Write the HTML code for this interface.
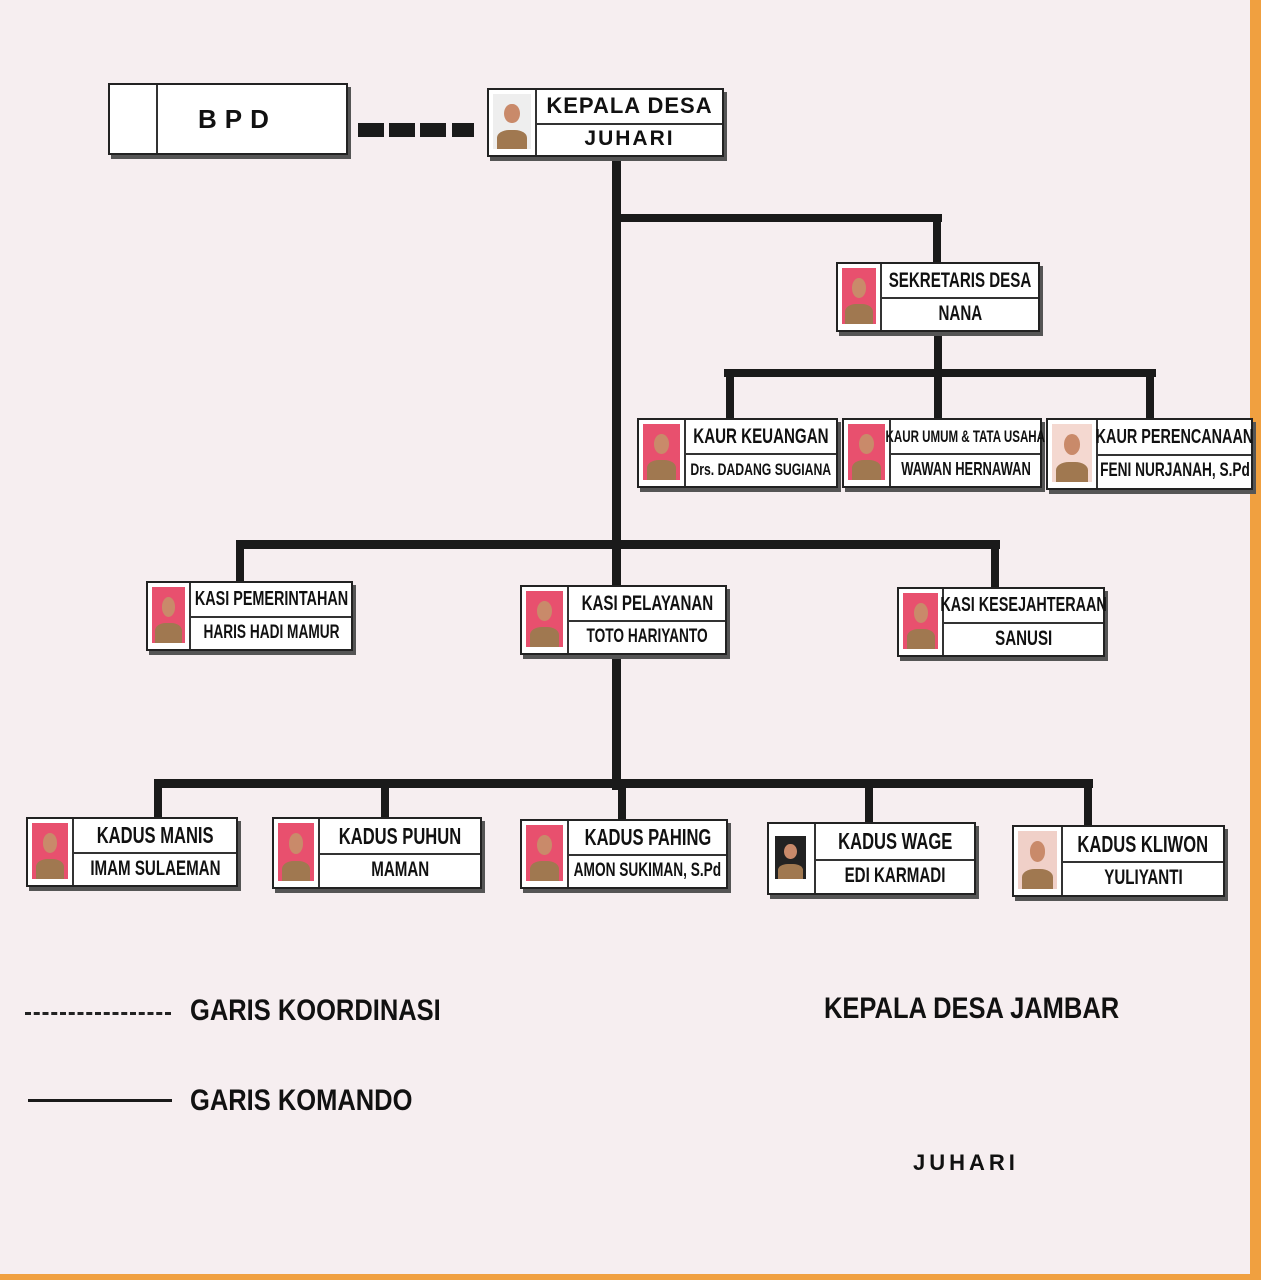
<!DOCTYPE html>
<html><head><meta charset="utf-8"><style>
html,body{margin:0;padding:0}
body{width:1261px;height:1280px;position:relative;overflow:hidden;background:#f6eef0;font-family:"Liberation Sans",sans-serif;}
.edge-r{position:absolute;left:1250px;top:0;width:11px;height:1280px;background:#f0a040}
.edge-b{position:absolute;left:0;top:1274px;width:1261px;height:6px;background:#f0a040}
.l{position:absolute;background:#1a1a1a}
.box{position:absolute;background:#fff;border:2px solid #222;box-shadow:3px 4px 0 #555;box-sizing:border-box}
.ph{position:absolute;left:0;top:0;bottom:0;border-right:2px solid #333;background:#fff;overflow:hidden}
.ph i{position:absolute;left:4px;right:4px;top:4px;bottom:6px;background:#e8506e}
.ph i:after{content:"";position:absolute;left:30%;top:18%;width:40%;height:35%;border-radius:50%;background:#c98a6a}
.ph i:before{content:"";position:absolute;left:10%;right:10%;bottom:0;height:35%;background:#a07850;border-radius:40% 40% 0 0}
.r{position:absolute;right:0;height:50%;display:flex;align-items:center;justify-content:center;font-weight:bold;color:#111;white-space:nowrap}
.r span{display:inline-block;transform:scaleX(0.72)}
.r1{top:0;border-bottom:2px solid #333}
.r2{bottom:0}
.lg{position:absolute;font-weight:bold;color:#111;font-size:30px;white-space:nowrap;transform:scaleX(0.85);transform-origin:left center}
</style></head><body>
<div class="edge-r"></div><div class="edge-b"></div>

<div class="l" style="left:612px;top:155px;width:9px;height:635px"></div>
<div class="l" style="left:612px;top:214px;width:330px;height:8px"></div>
<div class="l" style="left:933px;top:214px;width:8px;height:50px"></div>
<div class="l" style="left:934px;top:330px;width:8px;height:45px"></div>
<div class="l" style="left:724px;top:369px;width:432px;height:8px"></div>
<div class="l" style="left:726px;top:369px;width:8px;height:50px"></div>
<div class="l" style="left:934px;top:369px;width:8px;height:50px"></div>
<div class="l" style="left:1146px;top:369px;width:8px;height:50px"></div>
<div class="l" style="left:236px;top:540px;width:764px;height:9px"></div>
<div class="l" style="left:236px;top:540px;width:8px;height:44px"></div>
<div class="l" style="left:991px;top:545px;width:8px;height:44px"></div>
<div class="l" style="left:154px;top:779px;width:939px;height:9px"></div>
<div class="l" style="left:154px;top:779px;width:8px;height:40px"></div>
<div class="l" style="left:381px;top:781px;width:8px;height:38px"></div>
<div class="l" style="left:618px;top:781px;width:8px;height:40px"></div>
<div class="l" style="left:865px;top:783px;width:8px;height:42px"></div>
<div class="l" style="left:1084px;top:785px;width:8px;height:42px"></div>
<div class="l" style="left:358px;top:123px;width:26px;height:14px"></div>
<div class="l" style="left:389px;top:123px;width:26px;height:14px"></div>
<div class="l" style="left:420px;top:123px;width:26px;height:14px"></div>
<div class="l" style="left:452px;top:123px;width:22px;height:14px"></div>

<div class="box" style="left:108px;top:83px;width:240px;height:72px">
<div class="ph" style="width:46px"></div>
<div class="r" style="left:48px;height:100%;font-size:26px;letter-spacing:8px;justify-content:flex-start;padding-left:40px">BPD</div></div>

<div class="box" style="left:487px;top:88px;width:237px;height:69px"><div class="ph" style="width:46px"><i style="background:#eee"></i></div>
<div class="r r1" style="left:48px;font-size:22px;letter-spacing:1px">KEPALA DESA</div><div class="r r2" style="left:48px;font-size:21px;letter-spacing:2px">JUHARI</div></div>

<div class="box" style="left:836px;top:262px;width:204px;height:70px"><div class="ph" style="width:42px"><i></i></div>
<div class="r r1" style="left:44px;font-size:21px"><span>SEKRETARIS DESA</span></div><div class="r r2" style="left:44px;font-size:21px"><span>NANA</span></div></div>

<div class="box" style="left:637px;top:418px;width:201px;height:70px"><div class="ph" style="width:45px"><i></i></div>
<div class="r r1" style="left:47px;font-size:21px"><span>KAUR KEUANGAN</span></div><div class="r r2" style="left:47px;font-size:17px"><span>Drs. DADANG SUGIANA</span></div></div>
<div class="box" style="left:842px;top:418px;width:200px;height:70px"><div class="ph" style="width:45px"><i></i></div>
<div class="r r1" style="left:47px;font-size:17px"><span style="transform:scaleX(0.68)">KAUR UMUM &amp; TATA USAHA</span></div><div class="r r2" style="left:47px;font-size:18px"><span>WAWAN HERNAWAN</span></div></div>
<div class="box" style="left:1046px;top:418px;width:207px;height:72px"><div class="ph" style="width:48px"><i style="background:#f4d8d0"></i></div>
<div class="r r1" style="left:50px;font-size:20px"><span>KAUR PERENCANAAN</span></div><div class="r r2" style="left:50px;font-size:19px"><span>FENI NURJANAH, S.Pd</span></div></div>

<div class="box" style="left:146px;top:581px;width:207px;height:70px"><div class="ph" style="width:41px"><i></i></div>
<div class="r r1" style="left:43px;font-size:20px"><span>KASI PEMERINTAHAN</span></div><div class="r r2" style="left:43px;font-size:19px"><span>HARIS HADI MAMUR</span></div></div>
<div class="box" style="left:520px;top:585px;width:207px;height:70px"><div class="ph" style="width:45px"><i></i></div>
<div class="r r1" style="left:47px;font-size:21px"><span>KASI PELAYANAN</span></div><div class="r r2" style="left:47px;font-size:19px"><span>TOTO HARIYANTO</span></div></div>
<div class="box" style="left:897px;top:587px;width:208px;height:70px"><div class="ph" style="width:43px"><i></i></div>
<div class="r r1" style="left:45px;font-size:20px"><span>KASI KESEJAHTERAAN</span></div><div class="r r2" style="left:45px;font-size:21px"><span>SANUSI</span></div></div>

<div class="box" style="left:26px;top:817px;width:212px;height:70px"><div class="ph" style="width:44px"><i></i></div>
<div class="r r1" style="left:46px;font-size:23px"><span>KADUS MANIS</span></div><div class="r r2" style="left:46px;font-size:21px"><span>IMAM SULAEMAN</span></div></div>
<div class="box" style="left:272px;top:817px;width:210px;height:72px"><div class="ph" style="width:44px"><i></i></div>
<div class="r r1" style="left:46px;font-size:23px"><span>KADUS PUHUN</span></div><div class="r r2" style="left:46px;font-size:21px"><span>MAMAN</span></div></div>
<div class="box" style="left:520px;top:819px;width:208px;height:70px"><div class="ph" style="width:45px"><i></i></div>
<div class="r r1" style="left:47px;font-size:23px"><span>KADUS PAHING</span></div><div class="r r2" style="left:47px;font-size:19px"><span>AMON SUKIMAN, S.Pd</span></div></div>
<div class="box" style="left:767px;top:822px;width:209px;height:73px"><div class="ph" style="width:45px"><i style="background:#222;left:6px;right:8px;top:12px;bottom:14px"></i></div>
<div class="r r1" style="left:47px;font-size:23px"><span>KADUS WAGE</span></div><div class="r r2" style="left:47px;font-size:21px"><span>EDI KARMADI</span></div></div>
<div class="box" style="left:1012px;top:825px;width:213px;height:72px"><div class="ph" style="width:47px"><i style="background:#f0d0c8"></i></div>
<div class="r r1" style="left:49px;font-size:23px"><span>KADUS KLIWON</span></div><div class="r r2" style="left:49px;font-size:21px"><span>YULIYANTI</span></div></div>

<div style="position:absolute;left:25px;top:1012px;width:146px;border-top:3px dashed #222"></div>
<div class="lg" style="left:190px;top:994px">GARIS KOORDINASI</div>
<div class="l" style="left:28px;top:1099px;width:144px;height:3px"></div>
<div class="lg" style="left:190px;top:1084px">GARIS KOMANDO</div>
<div class="lg" style="left:824px;top:992px">KEPALA DESA JAMBAR</div>
<div class="lg" style="left:913px;top:1150px;font-size:22px;letter-spacing:4px;transform:none">JUHARI</div>
</body></html>
